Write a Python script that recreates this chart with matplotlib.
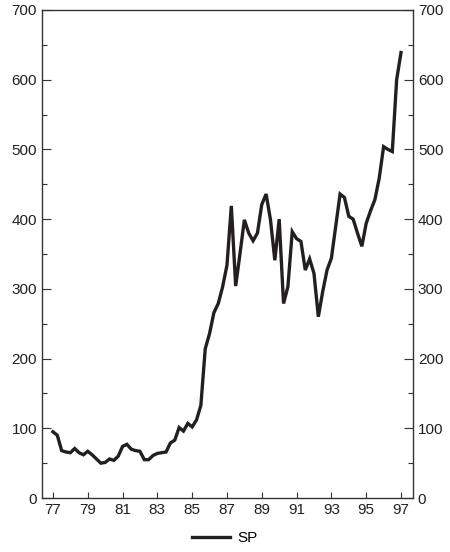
import matplotlib
matplotlib.use("Agg")
import matplotlib.pyplot as plt
from matplotlib.ticker import MultipleLocator
import numpy as np

plt.rcParams['font.family'] = ['Liberation Sans', 'DejaVu Sans']

# quarterly values, 1977Q1 .. 1997Q1
start_year = 77
sp = [95, 90, 68, 66,
      65, 71, 65, 62,
      67, 62, 56, 50,
      51, 56, 54, 60,
      74, 77, 70, 68,
      67, 55, 55, 61,
      64, 65, 66, 79,
      83, 101, 96, 107,
      102, 112, 133, 214,
      236, 266, 279, 303,
      334, 419, 304, 351,
      399, 380, 369, 380,
      421, 436, 399, 341,
      400, 279, 303, 382,
      372, 368, 327, 343,
      322, 260, 296, 327,
      344, 390, 436, 431,
      404, 400, 380, 361,
      394, 412, 428, 459,
      504, 500, 497, 600,
      639]
x_ticks = [77, 79, 81, 83, 85, 87, 89, 91, 93, 95, 97]

years = start_year + np.arange(len(sp)) / 4.0
ink = '#231f20'

fig = plt.figure(figsize=(4.5, 5.52), dpi=100)
ax = fig.add_axes([0.0933, 0.0978, 0.8245, 0.8841])

ax.plot(years, sp, color=ink, linewidth=2.4, label='SP', solid_joinstyle='miter')

ax.set_xlim(76.37, 97.69)
ax.set_ylim(0, 700)
ax.set_xticks(x_ticks)
ax.set_xticklabels([str(t) for t in x_ticks])
ax.yaxis.set_major_locator(MultipleLocator(100))
ax.yaxis.set_minor_locator(MultipleLocator(50))

for s in ax.spines.values():
    s.set_color('#333333')
    s.set_linewidth(1.0)

ax.tick_params(axis='y', which='major', direction='in', length=6.5, width=0.8,
               left=True, right=True, labelleft=True, labelright=True,
               labelsize=11, pad=3.5, colors='#333333', labelcolor='#231f20')
ax.tick_params(axis='y', which='minor', direction='in', length=3.6, width=0.8,
               left=True, right=True, colors='#333333')
ax.tick_params(axis='x', which='major', direction='in', length=4.3, width=0.8,
               labelsize=11, pad=3.5, colors='#333333', labelcolor='#231f20')

fig.legend(loc='lower center', bbox_to_anchor=(0.5, -0.012), frameon=False,
           fontsize=11, handlelength=2.5, handletextpad=0.5)

fig.savefig('out.png', dpi=100, facecolor='white')
